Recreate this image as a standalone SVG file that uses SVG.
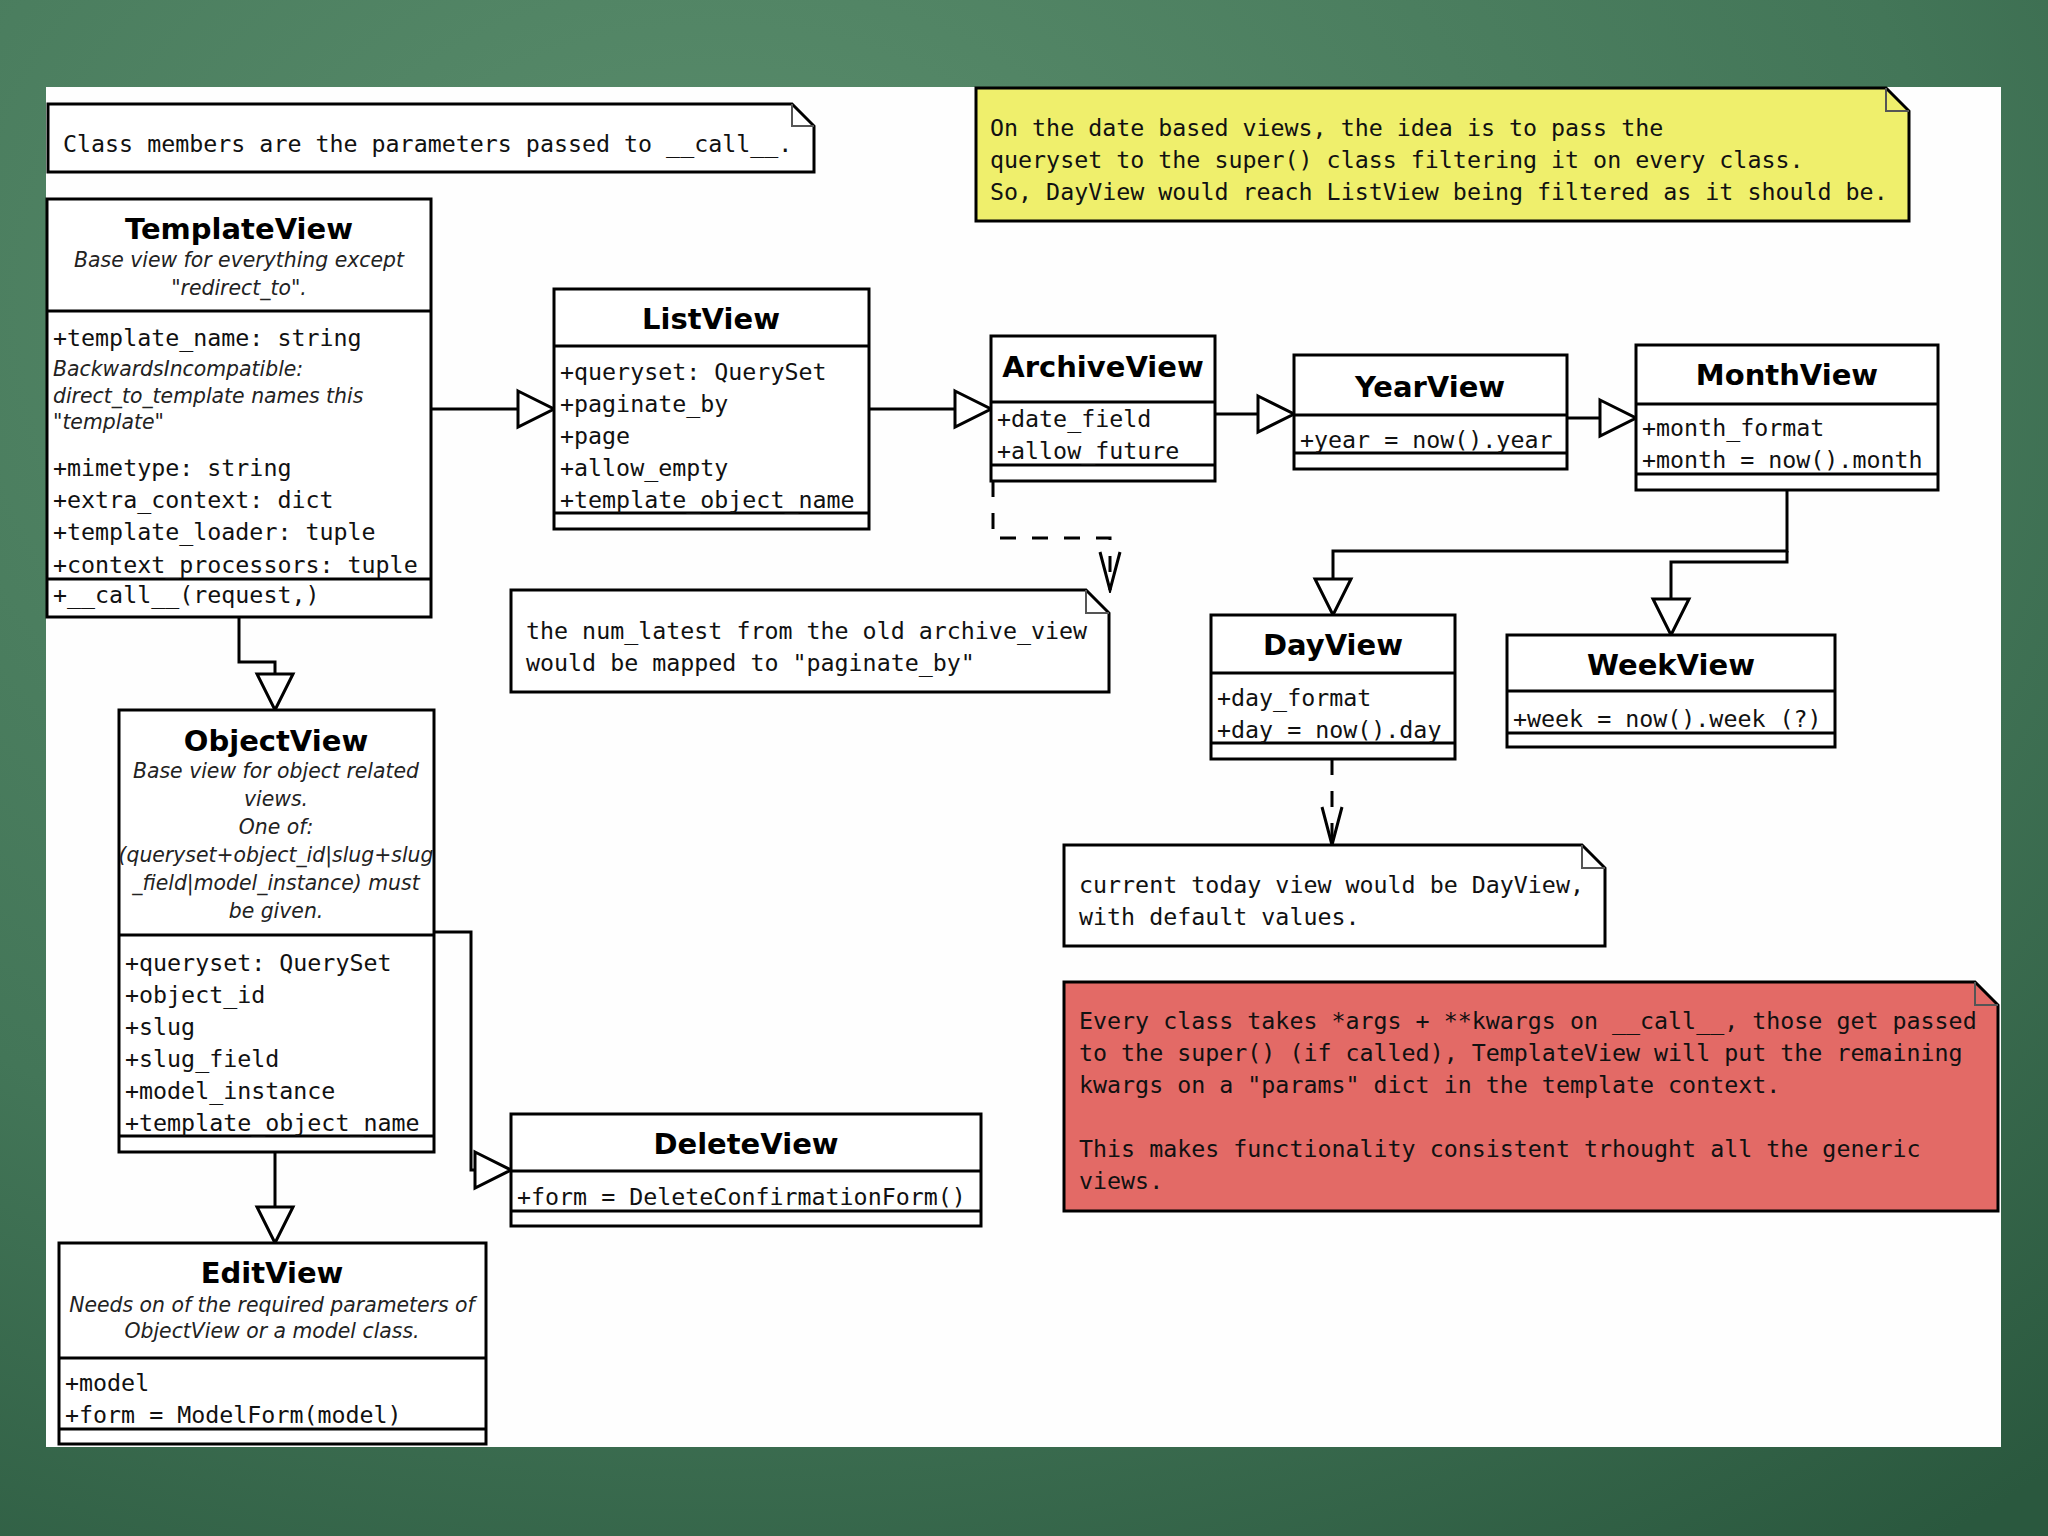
<svg xmlns="http://www.w3.org/2000/svg" width="2048" height="1536" viewBox="0 0 2048 1536">
<defs>
  <radialGradient id="bg" cx="0.35" cy="0.2" r="1" gradientUnits="objectBoundingBox">
    <stop offset="0" stop-color="#5a8d6c"/>
    <stop offset="0.6" stop-color="#437658"/>
    <stop offset="1" stop-color="#2a583e"/>
  </radialGradient>
  <marker id="gen" markerUnits="userSpaceOnUse" markerWidth="42" markerHeight="42" viewBox="0 0 42 42" refX="39" refY="21" orient="auto">
    <path d="M3,3 L39,21 L3,39 Z" fill="#ffffff" stroke="#000" stroke-width="3" stroke-linejoin="miter"/>
  </marker>
  <marker id="dep" markerUnits="userSpaceOnUse" markerWidth="44" markerHeight="26" viewBox="0 0 44 26" refX="41" refY="13" orient="auto">
    <path d="M3,3 L41,13 L3,23" fill="none" stroke="#000" stroke-width="3" stroke-dasharray="none"/>
  </marker>
</defs>
<style>
  .box { fill: #ffffff; stroke: #000; stroke-width: 3; }
  .sep { stroke: #000; stroke-width: 3; fill: none; }
  .note { stroke: #000; stroke-width: 3; stroke-linejoin: miter; }
  .fold { fill: none; stroke: #555; stroke-width: 2; }
  .title { font-family: "DejaVu Sans", "Liberation Sans", sans-serif; font-weight: bold; font-size: 29px; text-anchor: middle; fill: #000; }
  .desc { font-family: "DejaVu Sans", "Liberation Sans", sans-serif; font-style: italic; font-size: 20.4px; text-anchor: middle; fill: #222; }
  .idesc { font-family: "DejaVu Sans", "Liberation Sans", sans-serif; font-style: italic; font-size: 20.4px; fill: #222; }
  .mono { font-family: "DejaVu Sans Mono", "Liberation Mono", monospace; font-size: 23.3px; fill: #111; }
  .edge { fill: none; stroke: #000; stroke-width: 3; }
  .gen { marker-end: url(#gen); }
  .dash { stroke-dasharray: 16 16; marker-end: url(#dep); }
</style>

<rect x="0" y="0" width="2048" height="1536" fill="url(#bg)"/>
<rect x="46" y="87" width="1955" height="1360" fill="#fefefe"/>

<g id="connectors">
  <path class="edge gen" d="M431,409 H554"/>
  <path class="edge gen" d="M869,409 H991"/>
  <path class="edge gen" d="M1215,414 H1294"/>
  <path class="edge gen" d="M1567,418 H1636"/>
  <path class="edge gen" d="M1787,490 V551 H1333 V615"/>
  <path class="edge gen" d="M1787,551 V562 H1671 V635"/>
  <path class="edge gen" d="M239,617 V662 H275 V710"/>
  <path class="edge gen" d="M434,932 H471 V1170 H511"/>
  <path class="edge gen" d="M275,1152 V1243"/>
  <path class="edge dash" d="M993,481 V538 H1110 V590"/>
  <path class="edge dash" d="M1332,759 V845"/>
</g>

<g id="note-members">
  <path class="note" fill="#ffffff" d="M48,104 H792 L814,126 V172 H48 Z"/>
  <path class="fold" d="M792,104 V126 H814"/>
  <text class="mono" x="63" y="152">Class members are the parameters passed to __call__.</text>
</g>

<g id="note-datebased">
  <path class="note" fill="#efef6c" d="M976,88 H1886 L1909,111 V221 H976 Z"/>
  <path class="fold" stroke="#6b6b20" d="M1886,88 V111 H1909"/>
  <text class="mono" x="990" y="136">On the date based views, the idea is to pass the</text>
  <text class="mono" x="990" y="168">queryset to the super() class filtering it on every class.</text>
  <text class="mono" x="990" y="200">So, DayView would reach ListView being filtered as it should be.</text>
</g>

<g id="TemplateView">
  <rect class="box" x="47" y="199" width="384" height="418"/>
  <path class="sep" d="M47,311 H431 M47,579 H431"/>
  <text class="title" x="239" y="239">TemplateView</text>
  <text class="desc" x="239" y="267">Base view for everything except</text>
  <text class="desc" x="239" y="295">"redirect_to".</text>
  <text class="mono" x="53" y="346">+template_name: string</text>
  <text class="idesc" x="53" y="376">BackwardsIncompatible:</text>
  <text class="idesc" x="53" y="403">direct_to_template names this</text>
  <text class="idesc" x="53" y="429">"template"</text>
  <text class="mono" x="53" y="476">+mimetype: string</text>
  <text class="mono" x="53" y="508">+extra_context: dict</text>
  <text class="mono" x="53" y="540">+template_loader: tuple</text>
  <text class="mono" x="53" y="573">+context_processors: tuple</text>
  <text class="mono" x="53" y="603">+__call__(request,)</text>
</g>

<g id="ListView">
  <rect class="box" x="554" y="289" width="315" height="240"/>
  <path class="sep" d="M554,346 H869 M554,513 H869"/>
  <text class="title" x="711" y="329">ListView</text>
  <text class="mono" x="560" y="380">+queryset: QuerySet</text>
  <text class="mono" x="560" y="412">+paginate_by</text>
  <text class="mono" x="560" y="444">+page</text>
  <text class="mono" x="560" y="476">+allow_empty</text>
  <text class="mono" x="560" y="508">+template_object_name</text>
</g>

<g id="ArchiveView">
  <rect class="box" x="991" y="336" width="224" height="145"/>
  <path class="sep" d="M991,402 H1215 M991,465 H1215"/>
  <text class="title" x="1103" y="377">ArchiveView</text>
  <text class="mono" x="997" y="427">+date_field</text>
  <text class="mono" x="997" y="459">+allow_future</text>
</g>

<g id="YearView">
  <rect class="box" x="1294" y="355" width="273" height="114"/>
  <path class="sep" d="M1294,415 H1567 M1294,453 H1567"/>
  <text class="title" x="1430" y="397">YearView</text>
  <text class="mono" x="1300" y="448">+year = now().year</text>
</g>

<g id="MonthView">
  <rect class="box" x="1636" y="345" width="302" height="145"/>
  <path class="sep" d="M1636,404 H1938 M1636,474 H1938"/>
  <text class="title" x="1787" y="385">MonthView</text>
  <text class="mono" x="1642" y="436">+month_format</text>
  <text class="mono" x="1642" y="468">+month = now().month</text>
</g>

<g id="DayView">
  <rect class="box" x="1211" y="615" width="244" height="144"/>
  <path class="sep" d="M1211,673 H1455 M1211,743 H1455"/>
  <text class="title" x="1333" y="655">DayView</text>
  <text class="mono" x="1217" y="706">+day_format</text>
  <text class="mono" x="1217" y="738">+day = now().day</text>
</g>

<g id="WeekView">
  <rect class="box" x="1507" y="635" width="328" height="112"/>
  <path class="sep" d="M1507,691 H1835 M1507,733 H1835"/>
  <text class="title" x="1671" y="675">WeekView</text>
  <text class="mono" x="1513" y="727">+week = now().week (?)</text>
</g>

<g id="ObjectView">
  <rect class="box" x="119" y="710" width="315" height="442"/>
  <path class="sep" d="M119,935 H434 M119,1136 H434"/>
  <text class="title" x="276" y="751">ObjectView</text>
  <text class="desc" x="276" y="778">Base view for object related</text>
  <text class="desc" x="276" y="806">views.</text>
  <text class="desc" x="276" y="834">One of:</text>
  <text class="desc" x="276" y="862">(queryset+object_id|slug+slug</text>
  <text class="desc" x="276" y="890">_field|model_instance) must</text>
  <text class="desc" x="276" y="918">be given.</text>
  <text class="mono" x="125" y="971">+queryset: QuerySet</text>
  <text class="mono" x="125" y="1003">+object_id</text>
  <text class="mono" x="125" y="1035">+slug</text>
  <text class="mono" x="125" y="1067">+slug_field</text>
  <text class="mono" x="125" y="1099">+model_instance</text>
  <text class="mono" x="125" y="1131">+template_object_name</text>
</g>

<g id="DeleteView">
  <rect class="box" x="511" y="1114" width="470" height="112"/>
  <path class="sep" d="M511,1171 H981 M511,1211 H981"/>
  <text class="title" x="746" y="1154">DeleteView</text>
  <text class="mono" x="517" y="1205">+form = DeleteConfirmationForm()</text>
</g>

<g id="EditView">
  <rect class="box" x="59" y="1243" width="427" height="201"/>
  <path class="sep" d="M59,1358 H486 M59,1429 H486"/>
  <text class="title" x="272" y="1283">EditView</text>
  <text class="desc" x="272" y="1312">Needs on of the required parameters of</text>
  <text class="desc" x="272" y="1338">ObjectView or a model class.</text>
  <text class="mono" x="65" y="1391">+model</text>
  <text class="mono" x="65" y="1423">+form = ModelForm(model)</text>
</g>

<g id="note-numlatest">
  <path class="note" fill="#ffffff" d="M511,590 H1086 L1109,613 V692 H511 Z"/>
  <path class="fold" d="M1086,590 V613 H1109"/>
  <text class="mono" x="526" y="639">the num_latest from the old archive_view</text>
  <text class="mono" x="526" y="671">would be mapped to "paginate_by"</text>
</g>

<g id="note-today">
  <path class="note" fill="#ffffff" d="M1064,845 H1582 L1605,868 V946 H1064 Z"/>
  <path class="fold" d="M1582,845 V868 H1605"/>
  <text class="mono" x="1079" y="893">current today view would be DayView,</text>
  <text class="mono" x="1079" y="925">with default values.</text>
</g>

<g id="note-kwargs">
  <path class="note" fill="#e36a66" d="M1064,982 H1975 L1998,1005 V1211 H1064 Z"/>
  <path class="fold" stroke="#5a1a18" d="M1975,982 V1005 H1998"/>
  <text class="mono" x="1079" y="1029" fill="#1a0808">Every class takes *args + **kwargs on __call__, those get passed</text>
  <text class="mono" x="1079" y="1061" fill="#1a0808">to the super() (if called), TemplateView will put the remaining</text>
  <text class="mono" x="1079" y="1093" fill="#1a0808">kwargs on a "params" dict in the template context.</text>
  <text class="mono" x="1079" y="1157" fill="#1a0808">This makes functionality consistent trhought all the generic</text>
  <text class="mono" x="1079" y="1189" fill="#1a0808">views.</text>
</g>
</svg>
